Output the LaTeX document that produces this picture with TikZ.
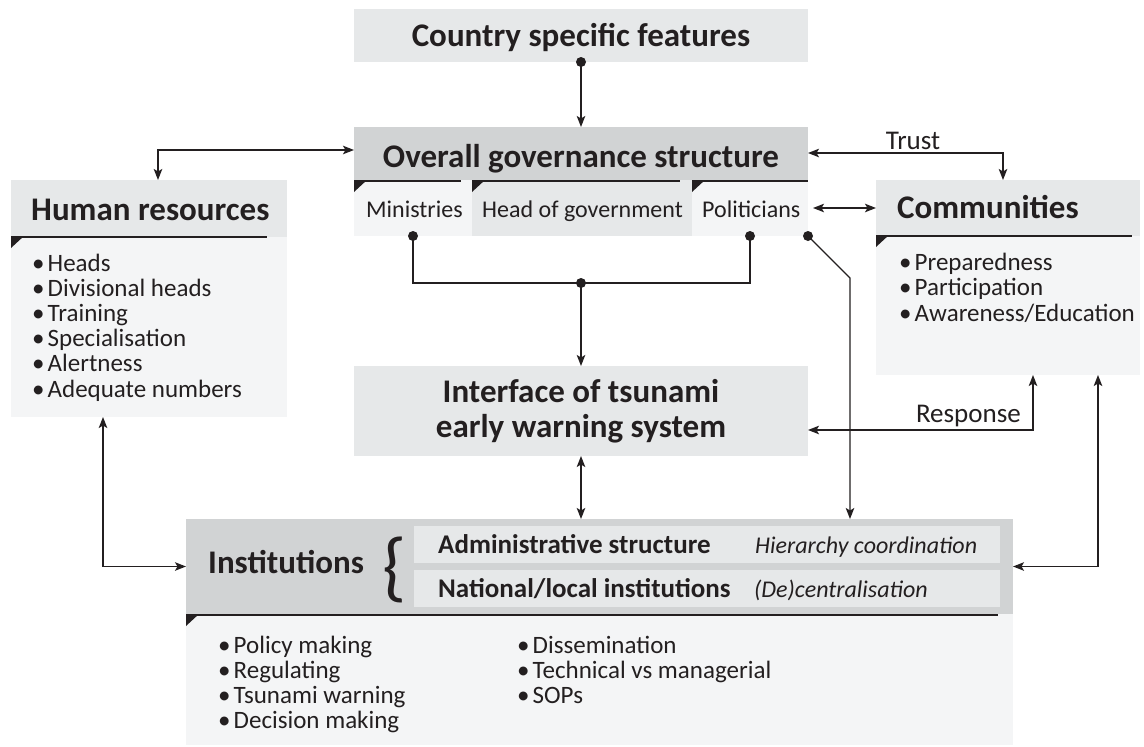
\documentclass[tikz,border=0pt]{standalone}
\usepackage{fontspec}
\setmainfont{Carlito}
\usepackage{graphicx}
\usetikzlibrary{arrows.meta,calc}
\definecolor{ink}{HTML}{231F20}
\definecolor{gdark}{HTML}{D1D3D4}
\definecolor{gmid}{HTML}{E6E8E9}
\definecolor{glight}{HTML}{F4F5F6}
\newcommand{\bul}{\makebox[15.5pt][l]{\textbullet}}
\begin{document}
\begin{tikzpicture}[x=1pt,y=-1pt,
  box/.style={inner sep=0,outer sep=0,anchor=north west,draw=none},
  hl/.style={ink,line width=2pt},
  ttl/.style={inner sep=0,text=ink,font=\fontsize{33}{36}\selectfont\bfseries},
  sub/.style={inner sep=0,anchor=base west,text=ink,font=\fontsize{24}{25}\selectfont},
  item/.style={inner sep=0,anchor=base west,text=ink,font=\fontsize{25}{26}\selectfont},
  rowb/.style={inner sep=0,anchor=base west,text=ink,font=\fontsize{27}{28}\selectfont\bfseries},
  rowi/.style={inner sep=0,anchor=base west,text=ink,font=\fontsize{24}{25}\selectfont\itshape},
  lbl/.style={inner sep=0,text=ink,font=\fontsize{27}{28}\selectfont},
  conn/.style={draw=ink,line width=1.3pt,-{Stealth[length=11pt,width=8.5pt,inset=2.5pt]}},
  dual/.style={draw=ink,line width=1.3pt,{Stealth[length=11pt,width=8.5pt,inset=2.5pt]}-{Stealth[length=11pt,width=8.5pt,inset=2.5pt]}},
  plain/.style={draw=ink,line width=1.3pt},
  dot/.style={circle,fill=ink,inner sep=0,minimum size=10pt},
]
\useasboundingbox[fill=white] (0,0) rectangle (1144,747);

% ---------- boxes ----------
\node[box,fill=gmid,minimum width=454pt,minimum height=53pt] (cty) at (354,9) {};
\node[box,fill=gdark,minimum width=454pt,minimum height=53pt] (ov) at (354,127) {};
\node[box,fill=glight,minimum width=118pt,minimum height=56pt] (mn) at (354,180) {};
\node[box,fill=gmid,minimum width=220pt,minimum height=56pt] (hg) at (472,180) {};
\node[box,fill=glight,minimum width=116pt,minimum height=56pt] (pl) at (692,180) {};
\node[box,fill=gmid,minimum width=276pt,minimum height=57pt] (hrh) at (11,180) {};
\node[box,fill=glight,minimum width=276pt,minimum height=180pt] (hrb) at (11,237) {};
\node[box,fill=gmid,minimum width=264pt,minimum height=56pt] (cmh) at (876,180) {};
\node[box,fill=glight,minimum width=264pt,minimum height=139pt] (cmb) at (876,236) {};
\node[box,fill=gmid,minimum width=454pt,minimum height=90pt] (ifc) at (354,366) {};
\node[box,fill=gdark,minimum width=827pt,minimum height=95pt] (ins) at (186,519) {};
\node[box,fill=glight,minimum width=827pt,minimum height=131pt] (insb) at (186,614) {};
\node[box,fill=gmid,minimum width=586pt,minimum height=37pt] (row1) at (414,526) {};
\node[box,fill=gmid,minimum width=586pt,minimum height=37pt] (row2) at (414,570) {};

% ---------- black rules and corner wedges ----------
\draw[hl] (354,181) -- (461,181);
\draw[hl] (472,181) -- (680,181);
\draw[hl] (692,181) -- (808,181);
\draw[hl] (11,237) -- (267,237);
\draw[hl] (876,236) -- (1132,236);
\draw[hl] (186,615) -- (998,615);
\foreach \x/\y in {354/180, 472/180, 692/180, 11/236, 876/235, 186/614}
  \fill[ink] (\x,\y) -- ++(13,0) -- ++(-13,12) -- cycle;

% ---------- texts ----------
\node[ttl,anchor=base] (tcty) at (581,46) {Country specific features};
\node[ttl,anchor=base] (tov) at (581,167) {Overall governance structure};
\node[sub] (tmn) at (366,217) {Ministries};
\node[sub] (thg) at (482,217) {Head of government};
\node[sub] (tpl) at (702,217) {Politicians};
\node[ttl,anchor=base west] (thr) at (31,220) {Human resources};
\node[ttl,anchor=base west] (tcm) at (897,218) {Communities};
\node[ttl,anchor=base] (tif1) at (581,402) {Interface of tsunami};
\node[ttl,anchor=base] (tif2) at (581,437) {early warning system};
\node[ttl,anchor=base west] (tins) at (208,573) {Institutions};
\node[inner sep=0,text=ink] (brace) at (395,570) {\resizebox*{!}{66pt}{\{}};
\node[rowb] (tr1) at (438,553) {Administrative structure};
\node[rowb] (tr2) at (438,597) {National/local institutions};
\node[rowi] (ti1) at (755,553) {Hierarchy coordination};
\node[rowi] (ti2) at (754,597) {(De)centralisation};
\node[lbl,anchor=base] (ttrust) at (913,149) {Trust};
\node[lbl,anchor=base east] (tresp) at (1021,422) {Response};

\foreach \t [count=\i from 0] in {Heads,Divisional heads,Training,Specialisation,Alertness,Adequate numbers}
  \node[item] (hr\i) at (32,{271+25.2*\i}) {\bul\t};
\foreach \t [count=\i from 0] in {Preparedness,Participation,Awareness/Education}
  \node[item] (cm\i) at (899,{270+25.5*\i}) {\bul\t};
\foreach \t [count=\i from 0] in {Policy making,Regulating,Tsunami warning,Decision making}
  \node[item] (ia\i) at (218,{653+25.3*\i}) {\bul\t};
\foreach \t [count=\i from 0] in {Dissemination,Technical vs managerial,SOPs}
  \node[item] (ib\i) at (517,{653+25.3*\i}) {\bul\t};

% ---------- connectors ----------
\coordinate (yh) at (0,150);
\coordinate (xh) at (158,0);
\coordinate (yt) at (0,153);
\coordinate (xt) at (1003,0);
\coordinate (yj) at (0,283);
\coordinate (bend) at (850,278);
\coordinate (xhr) at (103,0);
\coordinate (xr) at (1033,0);
\coordinate (yr) at (0,430);
\coordinate (xci) at (1098,0);

\node[dot] (dcty) at (cty.south) {};
\draw[conn] (dcty.center) -- (ov.north);

\draw[dual] (ov.west |- yh) -| (xh |- hrh.north);
\draw[dual] (ov.east |- yt) -| (xt |- cmh.north);
\draw[dual] ([xshift=5pt]pl.east) -- (cmh.west);

\node[dot] (dmn) at (mn.south) {};
\node[dot] (dpl) at (pl.south) {};
\node[dot] (dpc) at (pl.south east) {};
\node[dot] (djn) at (ifc.north |- yj) {};
\draw[plain] (dmn.center) |- (djn.center) -| (dpl.center);
\draw[conn] (djn.center) -- (ifc.north);
\draw[conn] (dpc.center) -- (bend) -- (bend |- ins.north);

\draw[dual] (ifc.south) -- (ifc.south |- ins.north);
\draw[dual] (xhr |- hrb.south) |- (ins.west);
\draw[dual] (xci |- cmb.south) |- (ins.east);
\draw[dual] (ifc.east |- yr) -| (xr |- cmb.south);
\end{tikzpicture}
\end{document}
